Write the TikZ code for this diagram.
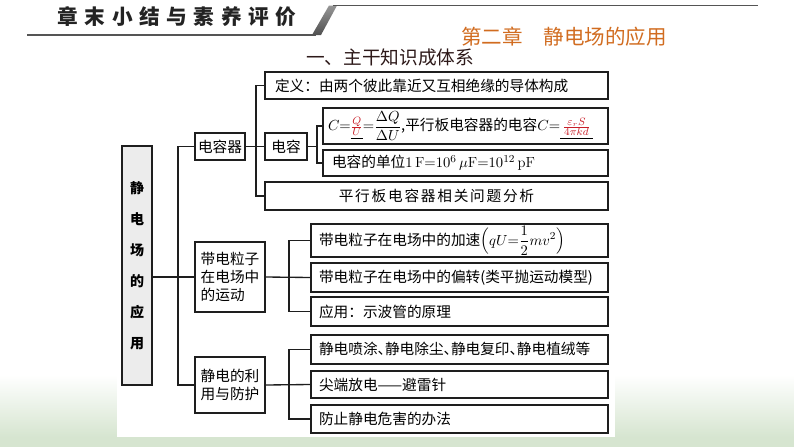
\documentclass[tikz,border=0pt]{standalone}
\usepackage{fontspec}
\usepackage{amsmath}
\newfontfamily\cjk{Noto Sans CJK SC}
\newfontfamily\cjktitle[LetterSpace=32]{Noto Sans CJK SC}
\newfontfamily\cjkspread[LetterSpace=12]{Noto Sans CJK SC}
\newcommand\dunhao{\makebox[0.5em][l]{、}}

\definecolor{chapcol}{RGB}{209,108,32}
\definecolor{sectcol}{RGB}{45,25,25}
\definecolor{boxline}{RGB}{30,30,30}
\definecolor{hubfill}{RGB}{236,236,236}
\definecolor{bggreen}{RGB}{214,229,208}
\definecolor{hintred}{RGB}{200,30,40}

\tikzset{every picture/.style={line width=0.75pt}}
\tikzset{
  box/.style={draw=boxline, line width=1pt, inner sep=0pt, font=\cjk\fontsize{11}{13.5}\selectfont},
  textbox/.style={box, align=left, inner xsep=#1},
  link/.style={draw=boxline, line width=1pt},
}

\begin{document}
\begin{tikzpicture}[x=0.75pt,y=0.75pt,yscale=-1,xscale=1]
\useasboundingbox (0,0) rectangle (794,447);

%Shape: background band
\shade [top color=white, bottom color=bggreen] (0,375) rectangle (794,437);
\fill [white] (117,375) rectangle (615,437);
\fill [bggreen] (0,437) rectangle (794,447);

%Shape: header rules
\draw [draw={rgb,255:red,85;green,85;blue,85}, line width=1.1pt] (27,35) -- (316,35);
\shade [top color={rgb,255:red,150;green,150;blue,150}, bottom color={rgb,255:red,80;green,80;blue,80}] (312,35) -- (321,35) -- (337,5.5) -- (329,5.5) -- cycle;
\draw [draw={rgb,255:red,85;green,85;blue,85}, line width=0.8pt] (333,5.5) -- (758,5.5);

% Text Node
\node [anchor=west, inner sep=0pt, font=\cjktitle\bfseries\fontsize{15.5}{18}\selectfont, text={rgb,255:red,35;green,35;blue,35}] (title) at (57,17) {章末小结与素养评价};
% Text Node
\node [font=\cjk\fontsize{15.4}{18}\selectfont, text=chapcol] (chap) at (564,37) {第二章\quad 静电场的应用};
% Text Node
\node [font=\cjk\fontsize{14}{17}\selectfont, text=sectcol] (sect) at (390,57) {一、主干知识成体系};

%Shape: title column
\node [box, fill=hubfill, minimum width=22.5pt, minimum height=179.25pt, align=center, font=\cjk\bfseries\fontsize{10.5}{23.25}\selectfont] (hub) at (137,265.5) {静\\电\\场\\的\\应\\用};

%Shape: second level
\node [box, minimum width=37.5pt, minimum height=20.25pt] (cap) at (220,146.5) {电容器};
\node [box, minimum width=52.5pt, minimum height=52.5pt, align=left] (motion) at (230,277) {带电粒子\\在电场中\\的运动};
\node [box, minimum width=52.5pt, minimum height=42pt, align=left] (use) at (230,385) {静电的利\\用与防护};

%Shape: capacitor branch
\node [textbox=7.5pt, text width=242.25pt, minimum height=20.25pt] (def) at (436.5,85.5) {定义：由两个彼此靠近又互相绝缘的导体构成};
\node [box, minimum width=31.5pt, minimum height=20.25pt] (cc) at (286,146.5) {电容};
\node [textbox=3.75pt, text width=206.25pt, minimum height=27pt] (form) at (465.5,126) {\mbox{$C{=}\underline{\textcolor{hintred}{\tfrac{Q}{U}}}{=}\dfrac{\Delta Q}{\Delta U}$,平行板电容器的电容$C{=}\underline{\,\textcolor{hintred}{\tfrac{\varepsilon_r S}{4\pi kd}}\,}$}};
\node [textbox=6.75pt, text width=200.25pt, minimum height=19.5pt] (unit) at (465.5,163) {\mbox{电容的单位$1\,\mathrm{F}{=}10^{6}\,\mu\mathrm{F}{=}10^{12}\,\mathrm{pF}$}};
\node [box, minimum width=257.25pt, minimum height=21pt, font=\cjkspread\fontsize{11}{13.5}\selectfont] (para) at (436.5,196) {平行板电容器相关问题分析};

%Shape: motion branch
\node [textbox=6pt, text width=210.75pt, minimum height=24.75pt] (m1) at (459.5,240.5) {\mbox{带电粒子在电场中的加速$\Bigl(qU{=}\dfrac{1}{2}mv^{2}\Bigr)$}};
\node [textbox=6pt, text width=210.75pt, minimum height=21.75pt] (m2) at (459.5,277.5) {\mbox{带电粒子在电场中的偏转(类平抛运动模型)}};
\node [textbox=6pt, text width=210.75pt, minimum height=21.75pt] (m3) at (459.5,311.5) {应用：示波管的原理};

%Shape: use branch
\node [textbox=6pt, text width=210.75pt, minimum height=21.75pt] (u1) at (459.5,349.5) {\mbox{静电喷涂\dunhao 静电除尘\dunhao 静电复印\dunhao 静电植绒等}};
\node [textbox=6pt, text width=210.75pt, minimum height=20.25pt] (u2) at (459.5,384.5) {尖端放电——避雷针};
\node [textbox=6pt, text width=210.75pt, minimum height=21pt] (u3) at (459.5,419) {防止静电危害的办法};

% bus lines
\coordinate (hubbus) at (178,0);
\coordinate (capbus) at (256,0);
\coordinate (ccbus) at (317,0);
\coordinate (mbus) at (289,0);

\draw [link] (cap.west) -- (cap.west -| hubbus) -- (use.west -| hubbus) -- (use.west);
\draw [link] (hub.east |- motion.west) -- (motion.west);

\draw [link] (def.west) -- (def.west -| capbus) -- (para.west -| capbus) -- (para.west);
\draw [link] (cap.east) -- (cc.west);

\draw [link] (form.west) -- (form.west -| ccbus) -- (unit.west -| ccbus) -- (unit.west);
\draw [link] (cc.east) -- (cc.east -| ccbus);

\draw [link] (m1.west) -- (m1.west -| mbus) -- (m3.west -| mbus) -- (m3.west);
\draw [link] (motion.east) -- (m2.west);

\draw [link] (u1.west) -- (u1.west -| mbus) -- (u3.west -| mbus) -- (u3.west);
\draw [link] (use.east) -- (u2.west);

\end{tikzpicture}
\end{document}
